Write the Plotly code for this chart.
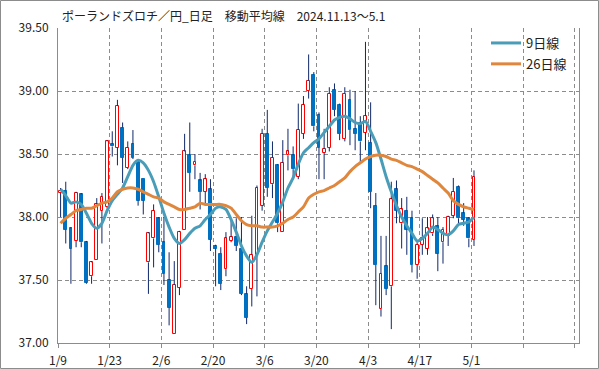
import plotly.graph_objects as go

# ---- data ----
TITLE = "ポーランドズロチ／円_日足　移動平均線　2024.11.13～5.1"
TICK_LABELS = ["1/9", "1/23", "2/6", "2/20", "3/6", "3/20", "4/3", "4/17", "5/1", "", ""]
TICK_EVERY = 10
N_SLOTS = 100.82

OPEN = [38.19, 38.21, 37.91, 37.81, 38.18, 37.80, 37.53, 37.66, 38.05, 38.08,
        38.58, 38.55, 38.71, 38.39, 38.58, 38.44, 38.30, 37.64, 37.83, 37.99,
        37.80, 37.50, 37.07, 37.44, 37.90, 38.49, 38.41, 38.29, 38.20, 38.22,
        37.77, 37.71, 37.59, 37.81, 37.84, 37.75, 37.39, 37.43, 37.70, 38.09,
        38.66, 38.26, 38.41, 37.88, 38.49, 38.49, 38.32, 38.66, 39.00, 39.13,
        38.81, 38.51, 38.55, 39.01, 38.89, 38.62, 38.93, 38.70, 38.75, 38.67,
        38.59, 38.09, 37.27, 37.61, 37.45, 38.22, 37.95, 38.05, 37.99, 37.62,
        37.78, 37.75, 37.87, 37.93, 37.80, 37.85, 38.01, 38.24, 38.03, 37.99,
        37.82]
HIGH = [38.23, 38.28, 37.92, 38.20, 38.19, 37.81, 37.65, 38.15, 38.19, 38.61,
        38.68, 38.93, 38.75, 38.60, 38.69, 38.45, 38.30, 37.88, 38.10, 38.00,
        38.00, 37.72, 37.65, 37.89, 38.66, 38.75, 38.50, 38.35, 38.34, 38.30,
        37.78, 37.76, 37.88, 37.98, 37.99, 38.00, 37.45, 38.01, 38.25, 38.70,
        38.85, 38.60, 38.42, 38.61, 38.70, 38.56, 38.90, 38.96, 39.29, 39.15,
        38.83, 38.70, 39.03, 39.06, 38.90, 39.03, 39.01, 39.00, 38.80, 39.39,
        38.91, 38.19, 37.85, 37.85, 38.28, 38.29, 38.15, 38.16, 38.05, 37.80,
        37.99, 38.00, 38.02, 38.00, 37.92, 38.01, 38.31, 38.25, 38.11, 38.00,
        38.37]
LOW = [38.00, 37.79, 37.47, 37.76, 37.76, 37.47, 37.47, 37.66, 37.79, 38.07,
       38.48, 38.41, 38.27, 38.38, 38.46, 38.09, 38.02, 37.39, 37.60, 37.72,
       37.46, 37.14, 37.07, 37.38, 37.90, 38.20, 38.30, 38.06, 38.10, 37.73,
       37.45, 37.42, 37.53, 37.80, 37.73, 37.38, 37.15, 37.29, 37.37, 38.05,
       38.16, 38.15, 37.88, 37.88, 38.37, 38.30, 38.30, 38.62, 38.94, 38.68,
       38.30, 38.30, 38.52, 38.80, 38.61, 38.60, 38.57, 38.53, 38.43, 38.53,
       38.07, 37.30, 37.21, 37.38, 37.11, 37.95, 37.75, 37.70, 37.56, 37.51,
       37.70, 37.70, 37.85, 37.57, 37.63, 37.77, 37.99, 37.95, 37.93, 37.76,
       37.77]
CLOSE = [38.21, 37.90, 37.75, 38.19, 37.80, 37.48, 37.64, 38.10, 38.16, 38.60,
         38.56, 38.88, 38.47, 38.55, 38.47, 38.13, 38.13, 37.87, 38.05, 37.78,
         37.55, 37.28, 37.46, 37.88, 38.52, 38.35, 38.44, 38.20, 38.30, 37.82,
         37.75, 37.47, 37.83, 37.84, 37.77, 37.39, 37.20, 37.70, 38.23, 38.66,
         38.23, 38.47, 37.95, 38.43, 38.52, 38.38, 38.69, 38.89, 39.08, 38.72,
         38.55, 38.54, 38.98, 38.85, 38.66, 38.98, 38.69, 38.66, 38.60, 38.80,
         38.20, 37.62, 37.55, 37.43, 38.14, 38.05, 38.06, 37.90, 37.62, 37.78,
         37.83, 37.91, 37.99, 37.71, 37.90, 38.00, 38.20, 37.99, 37.98, 37.83,
         38.32]
MA9 = [38.22, 38.17, 38.11, 38.12, 38.10, 38.03, 37.95, 37.91, 37.95, 38.05,
       38.13, 38.18, 38.23, 38.32, 38.41, 38.45, 38.43, 38.37, 38.28, 38.16,
       38.03, 37.92, 37.83, 37.79, 37.82, 37.87, 37.91, 37.93, 37.98, 38.02,
       38.07, 38.08, 38.06, 37.98, 37.88, 37.77, 37.69, 37.64, 37.70, 37.80,
       37.89, 37.96, 38.03, 38.12, 38.23, 38.31, 38.42, 38.51, 38.55, 38.59,
       38.62, 38.67, 38.72, 38.77, 38.79, 38.80, 38.78, 38.75, 38.74, 38.76,
       38.68, 38.59, 38.46, 38.32, 38.20, 38.09, 38.00, 37.93, 37.87, 37.81,
       37.83, 37.87, 37.92, 37.90, 37.87, 37.86, 37.89, 37.94, 37.95, 37.96,
       38.00]
MA26 = [37.95, 37.99, 38.02, 38.05, 38.06, 38.07, 38.07, 38.09, 38.11, 38.12,
        38.15, 38.20, 38.22, 38.23, 38.23, 38.22, 38.20, 38.18, 38.16, 38.15,
        38.12, 38.10, 38.08, 38.06, 38.06, 38.07, 38.08, 38.11, 38.10, 38.10,
        38.10, 38.10, 38.09, 38.07, 38.02, 37.97, 37.94, 37.93, 37.93, 37.92,
        37.92, 37.92, 37.93, 37.95, 37.98, 38.00, 38.04, 38.08, 38.15, 38.18,
        38.20, 38.21, 38.23, 38.25, 38.28, 38.31, 38.36, 38.40, 38.43, 38.46,
        38.48, 38.49, 38.49, 38.48, 38.46, 38.45, 38.43, 38.41, 38.40, 38.38,
        38.36, 38.33, 38.30, 38.27, 38.23, 38.19, 38.13, 38.10, 38.08, 38.07,
        38.06]
Y_TICKS = [37.0, 37.5, 38.0, 38.5, 39.0, 39.5]

# ---- styles ----
FONT = "Noto Sans CJK JP, DejaVu Sans, sans-serif"
UP_LINE = "#FF0000"
DOWN_FILL = "#0070C0"
WICK = "#10286A"
MA9_COLOR = "#4A9DB8"
MA26_COLOR = "#E0873E"
GRID = "#8C8C8C"

W, H = 599, 369
ML, MR, MT, MB = 58, 20, 28, 26
PW, PH = W - ML - MR, H - MT - MB

n = len(CLOSE)
xs = list(range(n))

# wick segments (outside the body)
wx, wy = [], []
for i in xs:
    top = max(OPEN[i], CLOSE[i])
    bot = min(OPEN[i], CLOSE[i])
    wx += [i, i, None, i, i, None]
    wy += [HIGH[i], top, None, bot, LOW[i], None]

up = [i for i in xs if CLOSE[i] >= OPEN[i]]
dn = [i for i in xs if CLOSE[i] < OPEN[i]]

fig = go.Figure()
fig.add_trace(go.Scatter(x=wx, y=wy, mode="lines", line=dict(color=WICK, width=1),
                         showlegend=False, hoverinfo="skip"))
fig.add_trace(go.Bar(x=up, y=[CLOSE[i] - OPEN[i] for i in up], base=[OPEN[i] for i in up],
                     width=0.55, marker=dict(color="white", line=dict(color=UP_LINE, width=1)),
                     showlegend=False))
fig.add_trace(go.Bar(x=dn, y=[OPEN[i] - CLOSE[i] for i in dn], base=[CLOSE[i] for i in dn],
                     width=0.55, marker=dict(color=DOWN_FILL, line=dict(color=DOWN_FILL, width=1)),
                     showlegend=False))
fig.add_trace(go.Scatter(x=xs, y=MA9, mode="lines", name="9日線", legendgroup="a",
                         line=dict(color=MA9_COLOR, width=3, shape="spline", smoothing=0.6)))
fig.add_trace(go.Scatter(x=xs, y=MA26, mode="lines", name="26日線", legendgroup="b",
                         line=dict(color=MA26_COLOR, width=3, shape="spline", smoothing=0.6)))

tickvals = [k * TICK_EVERY - 0.5 for k in range(len(TICK_LABELS))]

fig.update_layout(
    width=W, height=H,
    margin=dict(l=ML, r=MR, t=MT, b=MB, pad=0, autoexpand=False),
    paper_bgcolor="white", plot_bgcolor="white",
    barmode="overlay", bargap=0,
    font=dict(family=FONT, size=12, color="#222222"),
    showlegend=True,
    legend=dict(x=(486 - ML) / PW, y=(MT + PH - 28) / PH, xanchor="left", yanchor="top",
                bgcolor="rgba(0,0,0,0)", font=dict(size=13, family=FONT, color="#222222"),
                itemwidth=30, tracegroupgap=1),
    xaxis=dict(range=[-0.5, -0.5 + N_SLOTS], tickmode="array", tickvals=tickvals,
               ticktext=TICK_LABELS, showgrid=True, gridcolor=GRID, griddash="4px,3px",
               gridwidth=1, showline=True, linecolor=GRID, linewidth=1, mirror=False,
               ticks="outside", ticklen=4, tickcolor=GRID, zeroline=False,
               ticklabelstandoff=3, automargin=False,
               tickfont=dict(size=12, family=FONT, color="#222222")),
    yaxis=dict(range=[Y_TICKS[0], Y_TICKS[-1]], tickmode="array", tickvals=Y_TICKS,
               ticktext=[f"{v:.2f}" for v in Y_TICKS], showgrid=True, gridcolor=GRID,
               griddash="4px,3px", gridwidth=1, showline=True, linecolor=GRID, linewidth=1,
               mirror=True, ticks="", zeroline=False, ticklabelstandoff=6, automargin=False,
               tickfont=dict(size=12, family=FONT, color="#222222")),
    annotations=[dict(text=TITLE, xref="paper", yref="paper",
                      x=(60 - ML) / PW, y=(PH + MT - 15.5) / PH, xanchor="left", yanchor="middle",
                      showarrow=False, font=dict(size=12, family=FONT, color="#222222"))],
    shapes=[dict(type="rect", xref="paper", yref="paper",
                 x0=(0.5 - ML) / PW, x1=(W - 0.5 - ML) / PW,
                 y0=(MT + PH - (H - 0.5)) / PH, y1=(MT + PH - 0.5) / PH,
                 line=dict(color="#8C8C8C", width=1), layer="above")],
)

fig.write_html("out.html", config={"displayModeBar": False},
               post_script="document.body.style.margin='0px';")
